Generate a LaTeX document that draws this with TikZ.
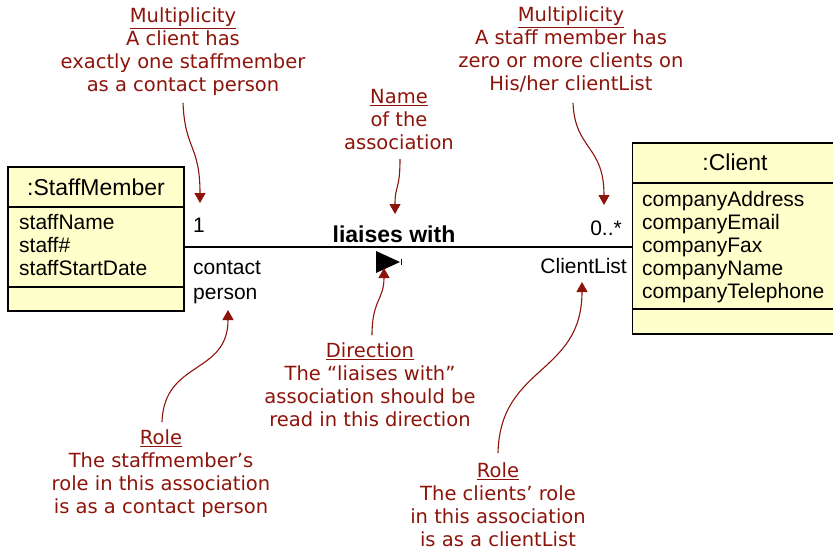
\documentclass[tikz,border=0pt]{standalone}
\usepackage{fontspec}
\setmainfont{Liberation Sans}
\newfontfamily\notefont{DejaVu Sans}
\usetikzlibrary{arrows.meta}
\definecolor{notered}{RGB}{140,20,10}
\definecolor{boxfill}{RGB}{255,255,204}
\begin{document}
\begin{tikzpicture}[x=1pt,y=-1pt,
  comp/.style={draw=black, fill=boxfill, line width=1.5pt, inner sep=0pt, outer sep=0pt},
  staffcomp/.style={comp, minimum width=176pt},
  clientcomp/.style={comp, minimum width=204pt},
  headtxt/.style={font=\fontsize{23}{26}\selectfont},
  attr/.style={font=\fontsize{21}{23}\selectfont, align=left, inner sep=0pt},
  lbl/.style={font=\fontsize{21}{25}\selectfont, align=left, inner sep=0pt},
  note/.style={text=notered, font=\notefont\fontsize{19.5}{23}\selectfont, align=center, inner sep=0pt},
  notearrow/.style={draw=notered, line width=1.1pt, -{Triangle[width=11pt,length=10pt]}}
]
\useasboundingbox (0,0) rectangle (833,552);

% StaffMember class
\node[staffcomp, minimum height=40pt] (staffhead) at (96,187) {};
\node[staffcomp, minimum height=80pt] (staffattr) at (96,247) {};
\node[staffcomp, minimum height=24pt] (staffops) at (96,299) {};
\node[headtxt] (stafftitle) at (staffhead.center) {:StaffMember};
\node[attr, anchor=west] (stafftext) at (19,245) {staffName\\staff\#\\staffStartDate};

% Client class
\node[clientcomp, minimum height=40pt] (clienthead) at (734.5,163) {};
\node[clientcomp, minimum height=126pt] (clientattr) at (734.5,246) {};
\node[clientcomp, minimum height=25pt] (clientops) at (734.5,321.5) {};
\node[headtxt] (clienttitle) at (735,162) {:Client};
\node[attr, anchor=west] (clienttext) at (642,247) {companyAddress\\companyEmail\\companyFax\\companyName\\companyTelephone};

% Association
\draw[line width=1.2pt] (staffattr.east) -- (staffattr.east -| clientattr.west);
\node[lbl, anchor=west] (one) at (193,225) {1};
\node[lbl, anchor=west] (contact) at (193,282.5) {contact\\person};
\node[lbl, anchor=east] (many) at (622,228) {0..*};
\node[lbl, anchor=east] (clientlist) at (627,266) {ClientList};
\node[font=\bfseries\fontsize{23}{26}\selectfont, inner sep=0pt] (assocname) at (394,234) {liaises with};
\fill (376,251) -- (400,262) -- (376,273) -- cycle;
\draw[line width=1pt] (401,259) -- (401,265);

% Annotation targets and starts
\coordinate (t1) at (200,203);
\coordinate (t2) at (604,205);
\coordinate (t3) at (395,214);
\coordinate (t4) at (384,268);
\coordinate (t5) at (228,310);
\coordinate (t6) at (582,282);
\coordinate (s1) at (183,103);
\coordinate (s2) at (573,103);
\coordinate (s3) at (400,159);
\coordinate (s4) at (372,335);
\coordinate (s5) at (162,422);
\coordinate (s6) at (498,453);

% Annotations
\node[note] (m1) at (183,51.5) {\underline{Multiplicity}\\A client has\\exactly one staffmember\\as a contact person};
\node[note] (m2) at (571,49.5) {\underline{Multiplicity}\\A staff member has\\zero or more clients on\\His/her clientList};
\node[note] (nm) at (399,120) {\underline{Name}\\of the\\association};
\node[note] (dir) at (370,384.5) {\underline{Direction}\\The “liaises with”\\association should be\\read in this direction};
\node[note] (r1) at (161,473.5) {\underline{Role}\\The staffmember’s\\role in this association\\is as a contact person};
\node[note] (r2) at (498,505) {\underline{Role}\\The clients’ role\\in this association\\is as a clientList};

\draw[notearrow] (s1) .. controls (185,150) and (200,145) .. (t1);
\draw[notearrow] (s2) .. controls (575,150) and (604,145) .. (t2);
\draw[notearrow] (s3) .. controls (400,190) and (395,185) .. (t3);
\draw[notearrow] (s4) .. controls (372,300) and (384,300) .. (t4);
\draw[notearrow] (s5) .. controls (164,360) and (228,375) .. (t5);
\draw[notearrow] (s6) .. controls (500,365) and (582,375) .. (t6);
\end{tikzpicture}
\end{document}
